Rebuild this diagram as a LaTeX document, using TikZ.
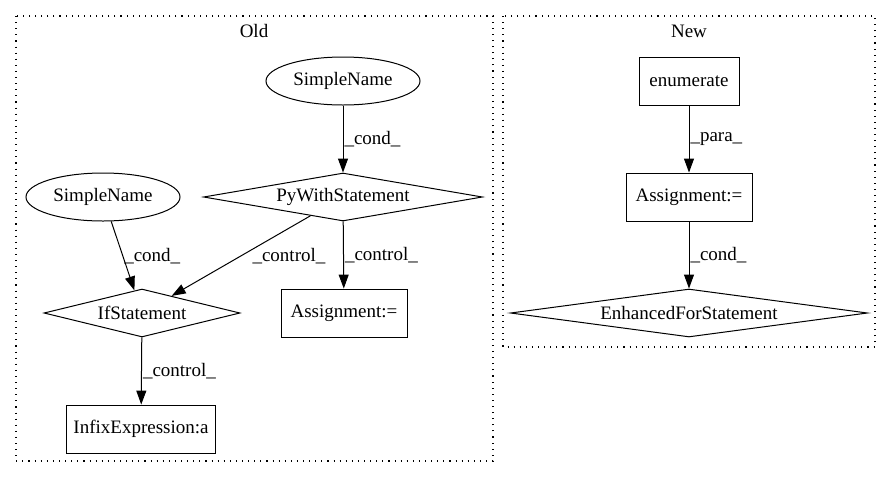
\documentclass[tikz,border=0pt]{standalone}
\usepackage{fontspec}
\setmainfont{Liberation Serif}
\usetikzlibrary{positioning,shapes.geometric,arrows.meta}
\tikzstyle{graphStyle} = [x=1pt, y=-1pt, font=\fontsize{19}{22}\selectfont]
\tikzstyle{clusterBox} = [line width=1.1pt, dash pattern=on 1.1pt off 5pt]
\tikzstyle{nameNode} = [draw, ellipse, line width=1pt, minimum width=154pt, minimum height=48pt, inner sep=0pt]
\tikzstyle{stmtNode} = [draw, diamond, line width=1pt, aspect=5.8, inner sep=0pt, minimum height=48pt]
\tikzstyle{exprNode} = [draw, rectangle, line width=0.9pt, minimum height=48pt, inner sep=0pt]
\tikzstyle{edgeStyle} = [-{Triangle[length=14pt,width=10pt]}, line width=1pt]
\tikzstyle{edgeText} = [midway, right, inner sep=1pt]

\begin{document}
\begin{tikzpicture}[graphStyle]
    \useasboundingbox (0,0) rectangle (891,480);
    \draw[clusterBox] (16,16) rectangle (493,461);
    \node (oldLabel) at (254,31) {Old};
    \draw[clusterBox] (503,16) rectangle (875,347);
    \node (newLabel) at (689,31) {New};
    \node[nameNode] (simpleNameTop) at (343,81) {SimpleName};
    \node[stmtNode, minimum width=279pt] (pyWith) at (343,197) {PyWithStatement};
    \node[nameNode] (simpleNameLeft) at (103,197) {SimpleName};
    \node[stmtNode, minimum width=196pt] (ifStmt) at (142,313) {IfStatement};
    \node[exprNode, minimum width=126pt] (assignOld) at (344,313) {Assignment:=};
    \node[exprNode, minimum width=149pt] (infixExpr) at (141,429) {InfixExpression:a};
    \node[exprNode, minimum width=100pt] (enumCall) at (689,81) {enumerate};
    \node[exprNode, minimum width=126pt] (assignNew) at (689,197) {Assignment:=};
    \node[stmtNode, minimum width=357pt] (forStmt) at (689,313) {EnhancedForStatement};
    \draw[edgeStyle] (simpleNameTop) -- node[edgeText] (condTop) {\_cond\_} (pyWith);
    \draw[edgeStyle] (simpleNameLeft) -- node[edgeText] (condLeft) {\_cond\_} (ifStmt);
    \draw[edgeStyle] (pyWith) -- node[edgeText, xshift=10pt] (controlIf) {\_control\_} (ifStmt);
    \draw[edgeStyle] (pyWith) -- node[edgeText] (controlAssign) {\_control\_} (assignOld);
    \draw[edgeStyle] (ifStmt) -- node[edgeText] (controlInfix) {\_control\_} (infixExpr);
    \draw[edgeStyle] (enumCall) -- node[edgeText] (paraNew) {\_para\_} (assignNew);
    \draw[edgeStyle] (assignNew) -- node[edgeText] (condNew) {\_cond\_} (forStmt);
\end{tikzpicture}
\end{document}
